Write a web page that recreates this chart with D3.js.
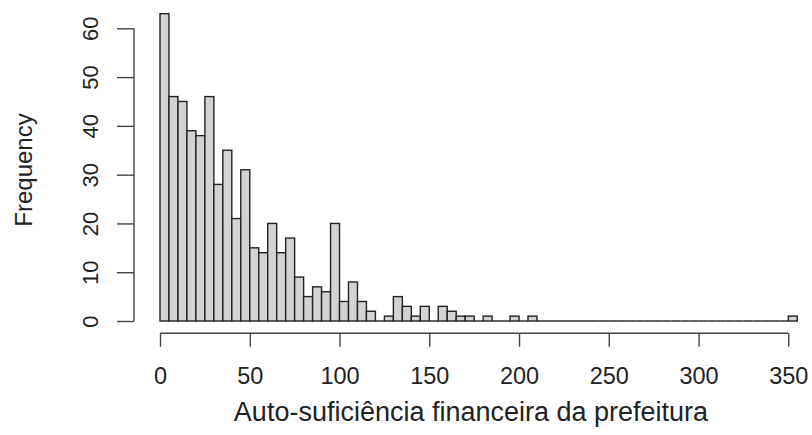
<!DOCTYPE html>
<html>
<head>
<meta charset="utf-8">
<script src="https://cdn.jsdelivr.net/npm/d3@7"></script>
<style>
  html, body { margin: 0; padding: 0; background: #fff; }
  svg { display: block; font-family: "Liberation Sans", Arial, Helvetica, sans-serif; }
</style>
</head>
<body>
<svg id="chart" width="812" height="435"></svg>
<script>
// Histogram: bins of width 5 starting at 0
const binStart = 0;
const binWidth = 5;
const counts = [
  63, 46, 45, 39, 38, 46, 28, 35, 21, 31,
  15, 14, 20, 14, 17, 9, 5, 7, 6, 20,
  4, 8, 4, 2, 0, 1, 5, 3, 1, 3,
  0, 3, 2, 1, 1, 0, 1, 0, 0, 1,
  0, 1, 0, 0, 0, 0, 0, 0, 0, 0,
  0, 0, 0, 0, 0, 0, 0, 0, 0, 0,
  0, 0, 0, 0, 0, 0, 0, 0, 0, 0,
  1
];
const xTicks = [0, 50, 100, 150, 200, 250, 300, 350];
const yTicks = [0, 10, 20, 30, 40, 50, 60];
const xTitle = "Auto-suficiência financeira da prefeitura";
const yTitle = "Frequency";

const bins = counts.map((c, i) => ({
  x0: binStart + i * binWidth,
  x1: binStart + (i + 1) * binWidth,
  count: c
}));

const svg = d3.select("#chart");

const x = d3.scaleLinear().domain([0, 350]).range([160, 788.3]);
const y = d3.scaleLinear().domain([0, 60]).range([321, 28.3]);

const barFill = "#d3d3d3";
const barStroke = "#222";

// bars with a count
svg.append("g")
  .selectAll("rect")
  .data(bins.filter(d => d.count > 0))
  .join("rect")
  .attr("x", d => x(d.x0))
  .attr("y", d => y(d.count))
  .attr("width", d => x(d.x1) - x(d.x0))
  .attr("height", d => y(0) - y(d.count))
  .attr("fill", barFill)
  .attr("stroke", barStroke)
  .attr("stroke-width", 1.4);

// empty bins collapse to a flat outline on the baseline
svg.append("g")
  .selectAll("line")
  .data(bins.filter(d => d.count === 0))
  .join("line")
  .attr("x1", d => x(d.x0))
  .attr("x2", d => x(d.x1))
  .attr("y1", y(0))
  .attr("y2", y(0))
  .attr("stroke", barStroke)
  .attr("stroke-width", 1.4);

// x axis, offset below the bars
const xAxis = d3.axisBottom(x)
  .tickValues(xTicks)
  .tickSize(13.5)
  .tickSizeOuter(0)
  .tickFormat(d3.format("d"));

const gx = svg.append("g")
  .attr("transform", "translate(0,333.3)")
  .call(xAxis);
gx.select(".domain").attr("stroke", "#444").attr("stroke-width", 1.4)
  .attr("d", `M${x(0)},0H${x(350)}`);
gx.selectAll(".tick line").attr("stroke", "#444").attr("stroke-width", 1.4);
gx.selectAll(".tick text")
  .attr("fill", "#222")
  .style("font-size", "23.5px")
  .attr("y", 50.7)
  .attr("dy", null);

// y axis, offset left of the bars
const yAxis = d3.axisLeft(y)
  .tickValues(yTicks)
  .tickSize(17)
  .tickSizeOuter(0)
  .tickFormat(d3.format("d"));

const gy = svg.append("g")
  .attr("transform", "translate(134,0)")
  .call(yAxis);
gy.select(".domain").attr("stroke", "#444").attr("stroke-width", 1.4)
  .attr("d", `M0,${y(0)}V${y(60)}`);
gy.selectAll(".tick line").attr("stroke", "#444").attr("stroke-width", 1.4);
gy.selectAll(".tick text")
  .attr("fill", "#222")
  .style("font-size", "22px")
  .attr("text-anchor", "middle")
  .attr("dominant-baseline", "central")
  .attr("x", null)
  .attr("dy", null)
  .attr("transform", "translate(-44,0) rotate(-90)");

// axis titles
svg.append("text")
  .attr("x", 471)
  .attr("y", 421)
  .attr("text-anchor", "middle")
  .attr("fill", "#222")
  .style("font-size", "27px")
  .text(xTitle);

svg.append("text")
  .attr("transform", "translate(32,170) rotate(-90)")
  .attr("text-anchor", "middle")
  .attr("fill", "#222")
  .style("font-size", "24px")
  .text(yTitle);
</script>
</body>
</html>
